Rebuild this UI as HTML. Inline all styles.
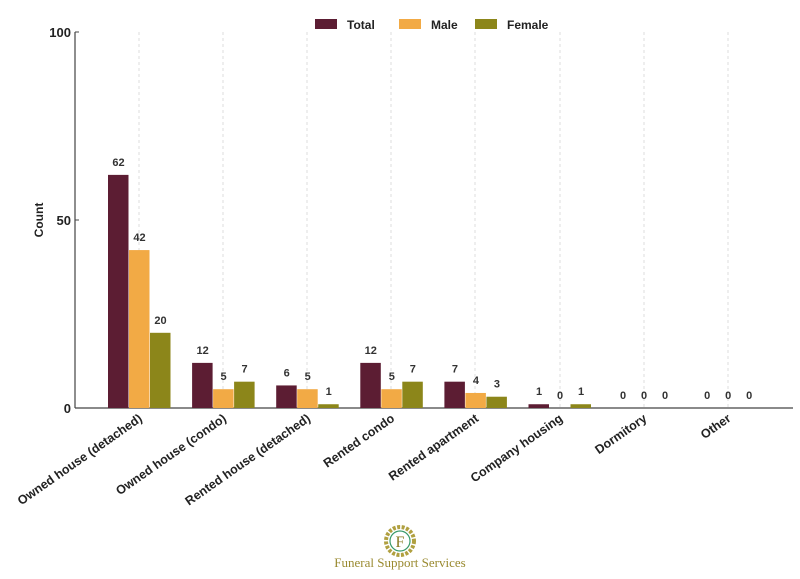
<!DOCTYPE html>
<html><head><meta charset="utf-8"><style>body{margin:0;background:#fff}svg{display:block}text{font-family:"Liberation Sans","DejaVu Sans",sans-serif}</style></head>
<body>
<svg width="800" height="579" viewBox="0 0 800 579" xmlns="http://www.w3.org/2000/svg">
<g stroke="#ddd" stroke-dasharray="3,3" stroke-width="1">
<line x1="139" y1="32" x2="139" y2="408"/><line x1="223" y1="32" x2="223" y2="408"/><line x1="307" y1="32" x2="307" y2="408"/><line x1="391" y1="32" x2="391" y2="408"/><line x1="475" y1="32" x2="475" y2="408"/><line x1="560" y1="32" x2="560" y2="408"/><line x1="644" y1="32" x2="644" y2="408"/><line x1="728" y1="32" x2="728" y2="408"/>
</g>
<line x1="75" y1="32" x2="75" y2="408" stroke="#444" stroke-width="1.2"/>
<line x1="75" y1="408" x2="793" y2="408" stroke="#444" stroke-width="1.2"/>
<g stroke="#444"><line x1="75" y1="32" x2="79" y2="32"/><line x1="75" y1="220" x2="79" y2="220"/></g>
<g font-size="13" font-weight="bold" fill="#222" text-anchor="end">
<text x="71" y="37">100</text><text x="71" y="225">50</text><text x="71" y="413">0</text></g>
<text transform="translate(43,220) rotate(-90)" font-size="12" font-weight="bold" text-anchor="middle" fill="#222">Count</text>
<g id="bars"></g>
<g font-size="11" font-weight="bold" fill="#333" text-anchor="middle" id="vals"></g>
<g font-size="12.5" font-weight="bold" fill="#222" text-anchor="end" id="cats"></g>
<g font-size="12" font-weight="bold" fill="#222">
<rect x="315" y="19" width="22" height="10" fill="#5c1d33"/><text x="347" y="29">Total</text>
<rect x="399" y="19" width="22" height="10" fill="#f2aa45"/><text x="431" y="29">Male</text>
<rect x="475" y="19" width="22" height="10" fill="#8c861a"/><text x="507" y="29">Female</text>
</g>
<circle cx="400" cy="541" r="14" fill="none" stroke="#b0a040" stroke-width="4" stroke-dasharray="3,1.5"/>
<circle cx="400" cy="541" r="10" fill="#fff" stroke="#3a9a6a" stroke-width="1.2"/>
<text x="400" y="547" font-size="16" fill="#8a7a20" text-anchor="middle" style="font-family:'Liberation Serif',serif">F</text>
<text x="400" y="567" font-size="13" fill="#9a8a30" text-anchor="middle" style="font-family:'Liberation Serif',serif">Funeral Support Services</text>
<script>
var d=[["Owned house (detached)",62,42,20],["Owned house (condo)",12,5,7],["Rented house (detached)",6,5,1],["Rented condo",12,5,7],["Rented apartment",7,4,3],["Company housing",1,0,1],["Dormitory",0,0,0],["Other",0,0,0]];
var cs=["#5c1d33","#f2aa45","#8c861a"],ns="http://www.w3.org/2000/svg";
var B=document.getElementById("bars"),V=document.getElementById("vals"),C=document.getElementById("cats");
d.forEach(function(r,i){var c=139+i*84.1;
for(var k=0;k<3;k++){var x=c-31+k*21,h=r[k+1]*3.76;
var e=document.createElementNS(ns,"rect");e.setAttribute("x",x);e.setAttribute("y",408-h);e.setAttribute("width",20.5);e.setAttribute("height",h);e.setAttribute("fill",cs[k]);B.appendChild(e);
var t=document.createElementNS(ns,"text");t.setAttribute("x",x+10.5);t.setAttribute("y",408-h-9);t.textContent=r[k+1];V.appendChild(t);}
var l=document.createElementNS(ns,"text");l.setAttribute("transform","translate("+(c-1)+",413) rotate(-35)");l.setAttribute("dominant-baseline","hanging");l.textContent=r[0];C.appendChild(l);});
</script>
</svg>
</body></html>
